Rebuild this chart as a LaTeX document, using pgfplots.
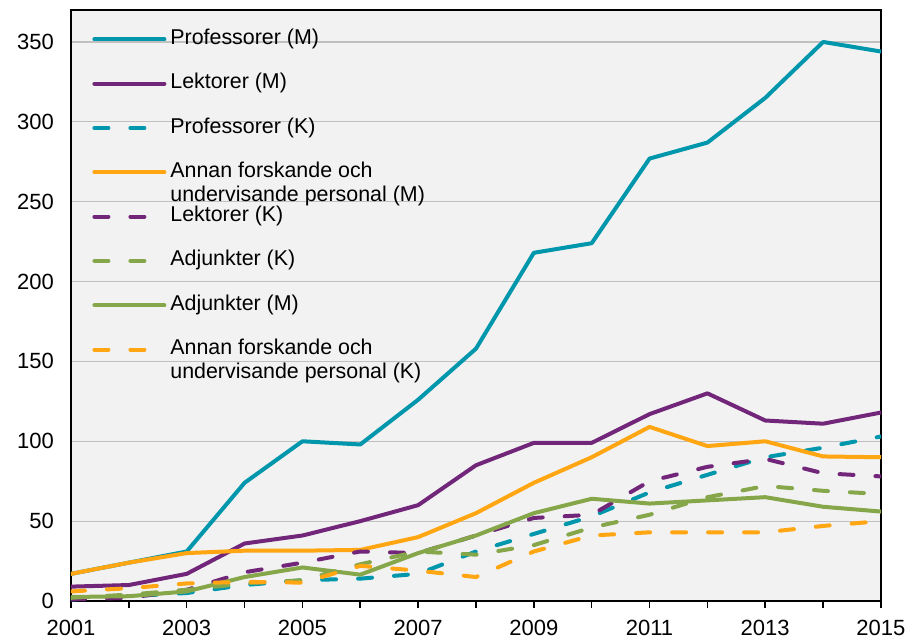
\documentclass[border=0pt]{standalone}
\usepackage{fontspec}
\setmainfont{Liberation Sans}
\usepackage{pgfplots}
\pgfplotsset{compat=1.18}
\definecolor{cteal}{RGB}{0,150,172}
\definecolor{cpurple}{RGB}{114,38,122}
\definecolor{corange}{RGB}{255,166,18}
\definecolor{cgreen}{RGB}{134,166,74}
\definecolor{bgc}{RGB}{242,242,242}
\definecolor{gridc}{RGB}{192,192,192}
\newcommand{\two}[2]{\smash{\begin{tabular}[t]{@{}l@{}}#1\\#2\end{tabular}}}
\begin{document}
\begin{tikzpicture}
\begin{axis}[
  name=ax,
  scale only axis, width=405pt, height=295.5pt,
  xmin=2001, xmax=2015, ymin=0, ymax=370,
  axis background/.style={fill=bgc},
  axis line style={black, line width=0.8pt},
  xtick={2001,...,2015},
  xticklabels={2001,,2003,,2005,,2007,,2009,,2011,,2013,,2015},
  ytick={0,50,...,350},
  ymajorgrids, grid style={gridc, line width=0.6pt},
  tick align=outside, xtick pos=bottom, ytick pos=left,
  major tick length=3.5pt,
  xtick style={black, line width=0.8pt},
  ytick style={draw=none},
  ticklabel style={font=\fontsize{11}{13}\selectfont},
  xticklabel style={yshift=-2.5pt},
  yticklabel style={xshift=-1.5pt},
  /pgf/number format/assume math mode=true,
  every axis plot post/.append style={line width=2pt, line cap=round, line join=round},
  legend image code/.code={\draw[#1] (0pt,0pt) -- (35pt,0pt);},
  legend cell align=left,
  legend style={draw=none, fill=none, at={(0,1)}, anchor=north west,
    xshift=10.5pt, yshift=-9pt, inner sep=0pt, row sep=11.15pt, column sep=2pt,
    font=\fontsize{10.7}{12}\selectfont,
    nodes={inner sep=0pt, text height=8pt, text depth=3pt}},
]
\addplot[cteal] coordinates {(2001,17)(2002,24)(2003,31)(2004,74)(2005,100)(2006,98)(2007,126)(2008,158)(2009,218)(2010,224)(2011,277)(2012,287)(2013,315)(2014,350)(2015,344)};
\addlegendentry{Professorer (M)}
\addplot[cpurple] coordinates {(2001,9)(2002,10)(2003,17)(2004,36)(2005,41)(2006,50)(2007,60)(2008,85)(2009,99)(2010,99)(2011,117)(2012,130)(2013,113)(2014,111)(2015,118)};
\addlegendentry{Lektorer (M)}
\addplot[cteal, dash pattern=on 7pt off 11pt] coordinates {(2001,1)(2002,3)(2003,5)(2004,10)(2005,13)(2006,14)(2007,17)(2008,31)(2009,42)(2010,53)(2011,68)(2012,79)(2013,90)(2014,96)(2015,103)};
\addlegendentry{Professorer (K)}
\addplot[corange] coordinates {(2001,17)(2002,24)(2003,30)(2004,31.5)(2005,31.5)(2006,32)(2007,40)(2008,55)(2009,74)(2010,90)(2011,109)(2012,97)(2013,100)(2014,90.5)(2015,90)};
\addlegendentry{\two{Annan forskande och}{undervisande personal (M)}}
\addplot[cpurple, dash pattern=on 7pt off 11pt] coordinates {(2001,1)(2002,2)(2003,7)(2004,18)(2005,24)(2006,31)(2007,30)(2008,41)(2009,52)(2010,54)(2011,75)(2012,84)(2013,89)(2014,80)(2015,78)};
\addlegendentry{Lektorer (K)}
\addplot[cgreen, dash pattern=on 7pt off 11pt] coordinates {(2001,2)(2002,4)(2003,7)(2004,11)(2005,13)(2006,23)(2007,31)(2008,29)(2009,35)(2010,46)(2011,54)(2012,65)(2013,72)(2014,69)(2015,67)};
\addlegendentry{Adjunkter (K)}
\addplot[cgreen] coordinates {(2001,2.5)(2002,3)(2003,6)(2004,15)(2005,21)(2006,16.5)(2007,30)(2008,41)(2009,55)(2010,64)(2011,61)(2012,63)(2013,65)(2014,59)(2015,56)};
\addlegendentry{Adjunkter (M)}
\addplot[corange, dash pattern=on 7pt off 11pt] coordinates {(2001,6)(2002,8)(2003,11)(2004,12)(2005,11.5)(2006,22)(2007,19)(2008,15)(2009,31)(2010,41)(2011,43)(2012,43)(2013,43)(2014,47)(2015,50)};
\addlegendentry{\two{Annan forskande och}{undervisande personal (K)}}
\end{axis}
\pgfresetboundingbox
\path ([shift={(-35.5pt,-19pt)}]ax.south west) rectangle ([shift={(15pt,5pt)}]ax.north east);
\end{tikzpicture}
\end{document}
